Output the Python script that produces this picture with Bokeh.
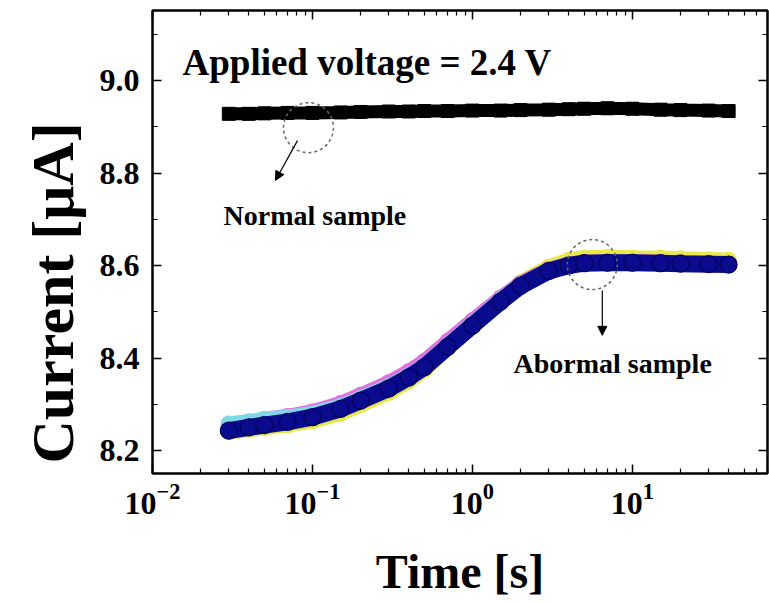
import math
from bokeh.plotting import figure
from bokeh.models import (Range1d, FixedTicker, LogAxis, LinearAxis, PrintfTickFormatter,
                          Label, Arrow, NormalHead, Title)
from bokeh.embed import file_html
from bokeh.resources import INLINE

# ---------------- data ----------------
time_s = [0.03, 0.04, 0.05, 0.07, 0.1, 0.15, 0.2, 0.3, 0.4, 0.5, 0.7, 1.0,
          1.5, 2.0, 3.0, 4.0, 5.0, 7.0, 10.0, 15.0, 20.0, 30.0, 40.0]

normal_uA = [8.928, 8.928, 8.929, 8.930, 8.930, 8.931, 8.932, 8.933, 8.933, 8.934, 8.934, 8.935,
             8.935, 8.936, 8.937, 8.938, 8.939, 8.940, 8.939, 8.937, 8.936, 8.935, 8.934]

abnormal_navy_uA = [8.243, 8.250, 8.255, 8.262, 8.272, 8.290, 8.308, 8.334, 8.358, 8.380, 8.424, 8.470,
                    8.522, 8.556, 8.588, 8.600, 8.605, 8.606, 8.606, 8.605, 8.604, 8.603, 8.602]

abnormal_magenta_uA = [8.256, 8.262, 8.267, 8.274, 8.284, 8.302, 8.320, 8.347, 8.371, 8.393, 8.436, 8.481,
                       8.530, 8.561, 8.592, 8.603, 8.607, 8.608, 8.608, 8.607, 8.606, 8.605, 8.604]

abnormal_yellow_uA = [8.240, 8.245, 8.249, 8.255, 8.264, 8.280, 8.298, 8.325, 8.350, 8.374, 8.420, 8.470,
                      8.527, 8.563, 8.597, 8.612, 8.617, 8.618, 8.617, 8.616, 8.615, 8.613, 8.612]

abnormal_cyan_uA = [8.258, 8.262, 8.268, 8.272, 8.280, 8.296, 8.313, 8.339, 8.362, 8.384, 8.428, 8.474,
                    8.526, 8.559, 8.590, 8.602, 8.606, 8.607, 8.607, 8.606, 8.605, 8.604, 8.603]

x_major_ticks = [0.01, 0.1, 1.0, 10.0]
y_major_ticks = [8.2, 8.4, 8.6, 8.8, 9.0]
y_minor_ticks = [8.3, 8.5, 8.7, 8.9, 9.1]

FONT = "Liberation Serif"

x_minor_ticks = [m * d for d in [0.01, 0.1, 1.0, 10.0] for m in range(2, 10)]

p = figure(width=769, height=603, x_axis_type="log",
           x_range=Range1d(0.01, 70.0), y_range=Range1d(8.1503, 9.1514),
           output_backend="svg", toolbar_location=None,
           min_border_left=152, min_border_right=2, min_border_top=10, min_border_bottom=130)
p.background_fill_color = "white"
p.border_fill_color = "white"
p.grid.visible = False
p.outline_line_color = "black"
p.outline_line_width = 2

# axes
def style_axis(ax, show_labels):
    ax.axis_line_color = "black"
    ax.axis_line_width = 2
    ax.major_tick_line_color = "black"
    ax.minor_tick_line_color = "black"
    ax.major_tick_line_width = 1.5
    ax.minor_tick_line_width = 1.2
    ax.major_tick_in = 9
    ax.major_tick_out = 0
    ax.minor_tick_in = 5
    ax.minor_tick_out = 0
    if show_labels:
        ax.major_label_text_font = FONT
        ax.major_label_text_font_style = "bold"
        ax.major_label_text_font_size = "32px"
        ax.major_label_text_color = "black"
        ax.axis_label_text_font = FONT
        ax.axis_label_text_font_style = "bold"
        ax.axis_label_text_color = "black"
    else:
        ax.major_label_text_font_size = "1px"
        ax.major_label_text_alpha = 0.0
        ax.major_label_standoff = 0

xb = p.xaxis[0]
xb.ticker = FixedTicker(ticks=x_major_ticks, minor_ticks=x_minor_ticks)
style_axis(xb, True)
xb.major_label_standoff = 10
xb.axis_label = "Time [s]"
xb.axis_label_text_font_size = "48px"
xb.axis_label_standoff = 28

yl = p.yaxis[0]
yl.ticker = FixedTicker(ticks=y_major_ticks, minor_ticks=y_minor_ticks)
yl.formatter = PrintfTickFormatter(format="%.1f")
style_axis(yl, True)
yl.major_label_standoff = 13

# y-axis title, placed low like the reference
p.add_layout(Title(text="Current [μA]", align="left", offset=10,
                   text_font=FONT, text_font_style="bold", text_font_size="60px",
                   text_color="black", standoff=22), "left")

xt = LogAxis(ticker=FixedTicker(ticks=x_major_ticks, minor_ticks=x_minor_ticks))
style_axis(xt, False)
p.add_layout(xt, "above")
yr = LinearAxis(ticker=FixedTicker(ticks=y_major_ticks, minor_ticks=y_minor_ticks))
style_axis(yr, False)
p.add_layout(yr, "right")

# normal sample
p.line(time_s, normal_uA, line_color="black", line_width=13, line_cap="butt")
p.scatter(time_s, normal_uA, marker="square", size=13, fill_color="black", line_color="black")

# abnormal sample (several overlapping samples)
for vals, col in [(abnormal_yellow_uA, "#e8e84a"), (abnormal_magenta_uA, "#e070e0"),
                  (abnormal_cyan_uA, "#7fd8e8")]:
    p.line(time_s, vals, line_color=col, line_width=15, line_cap="round")
    p.scatter(time_s, vals, marker="circle", size=15, fill_color="white", fill_alpha=0.0,
              line_color=col, line_width=1.5)
p.line(time_s, abnormal_navy_uA, line_color="#0a0a8c", line_width=17, line_cap="round")
p.scatter(time_s, abnormal_navy_uA, marker="circle", size=17, fill_color="#0a0a8c",
          line_color="#000060", line_width=1.2)

# dashed circles and arrows
p.scatter([0.0944], [8.898], marker="circle", size=50, fill_alpha=0.0,
          line_color="#666666", line_dash="3 3", line_width=1.5)
p.scatter([5.62], [8.602], marker="circle", size=50, fill_alpha=0.0,
          line_color="#666666", line_dash="3 3", line_width=1.5)
p.add_layout(Arrow(end=NormalHead(size=9, fill_color="black", line_color="black"),
                   x_start=0.0806, y_start=8.870, x_end=0.0587, y_end=8.784,
                   line_color="black", line_width=1.2))
p.add_layout(Arrow(end=NormalHead(size=9, fill_color="black", line_color="black"),
                   x_start=6.49, y_start=8.546, x_end=6.49, y_end=8.449,
                   line_color="black", line_width=1.2))

# texts inside the frame (screen units relative to frame: x from left, y up from bottom)
def lab(text, x, y, size):
    p.add_layout(Label(x=x, y=y, x_units="screen", y_units="screen", text=text,
                       text_font=FONT, text_font_style="bold", text_font_size=size,
                       text_color="black", text_align="left", text_baseline="alphabetic"))

lab("Applied voltage = 2.4 V", 30, 411, "37px")
lab("Normal sample", 71, 258, "28px")
lab("Abormal sample", 361, 110, "28px")

open("out.html", "w").write(file_html(p, INLINE))
